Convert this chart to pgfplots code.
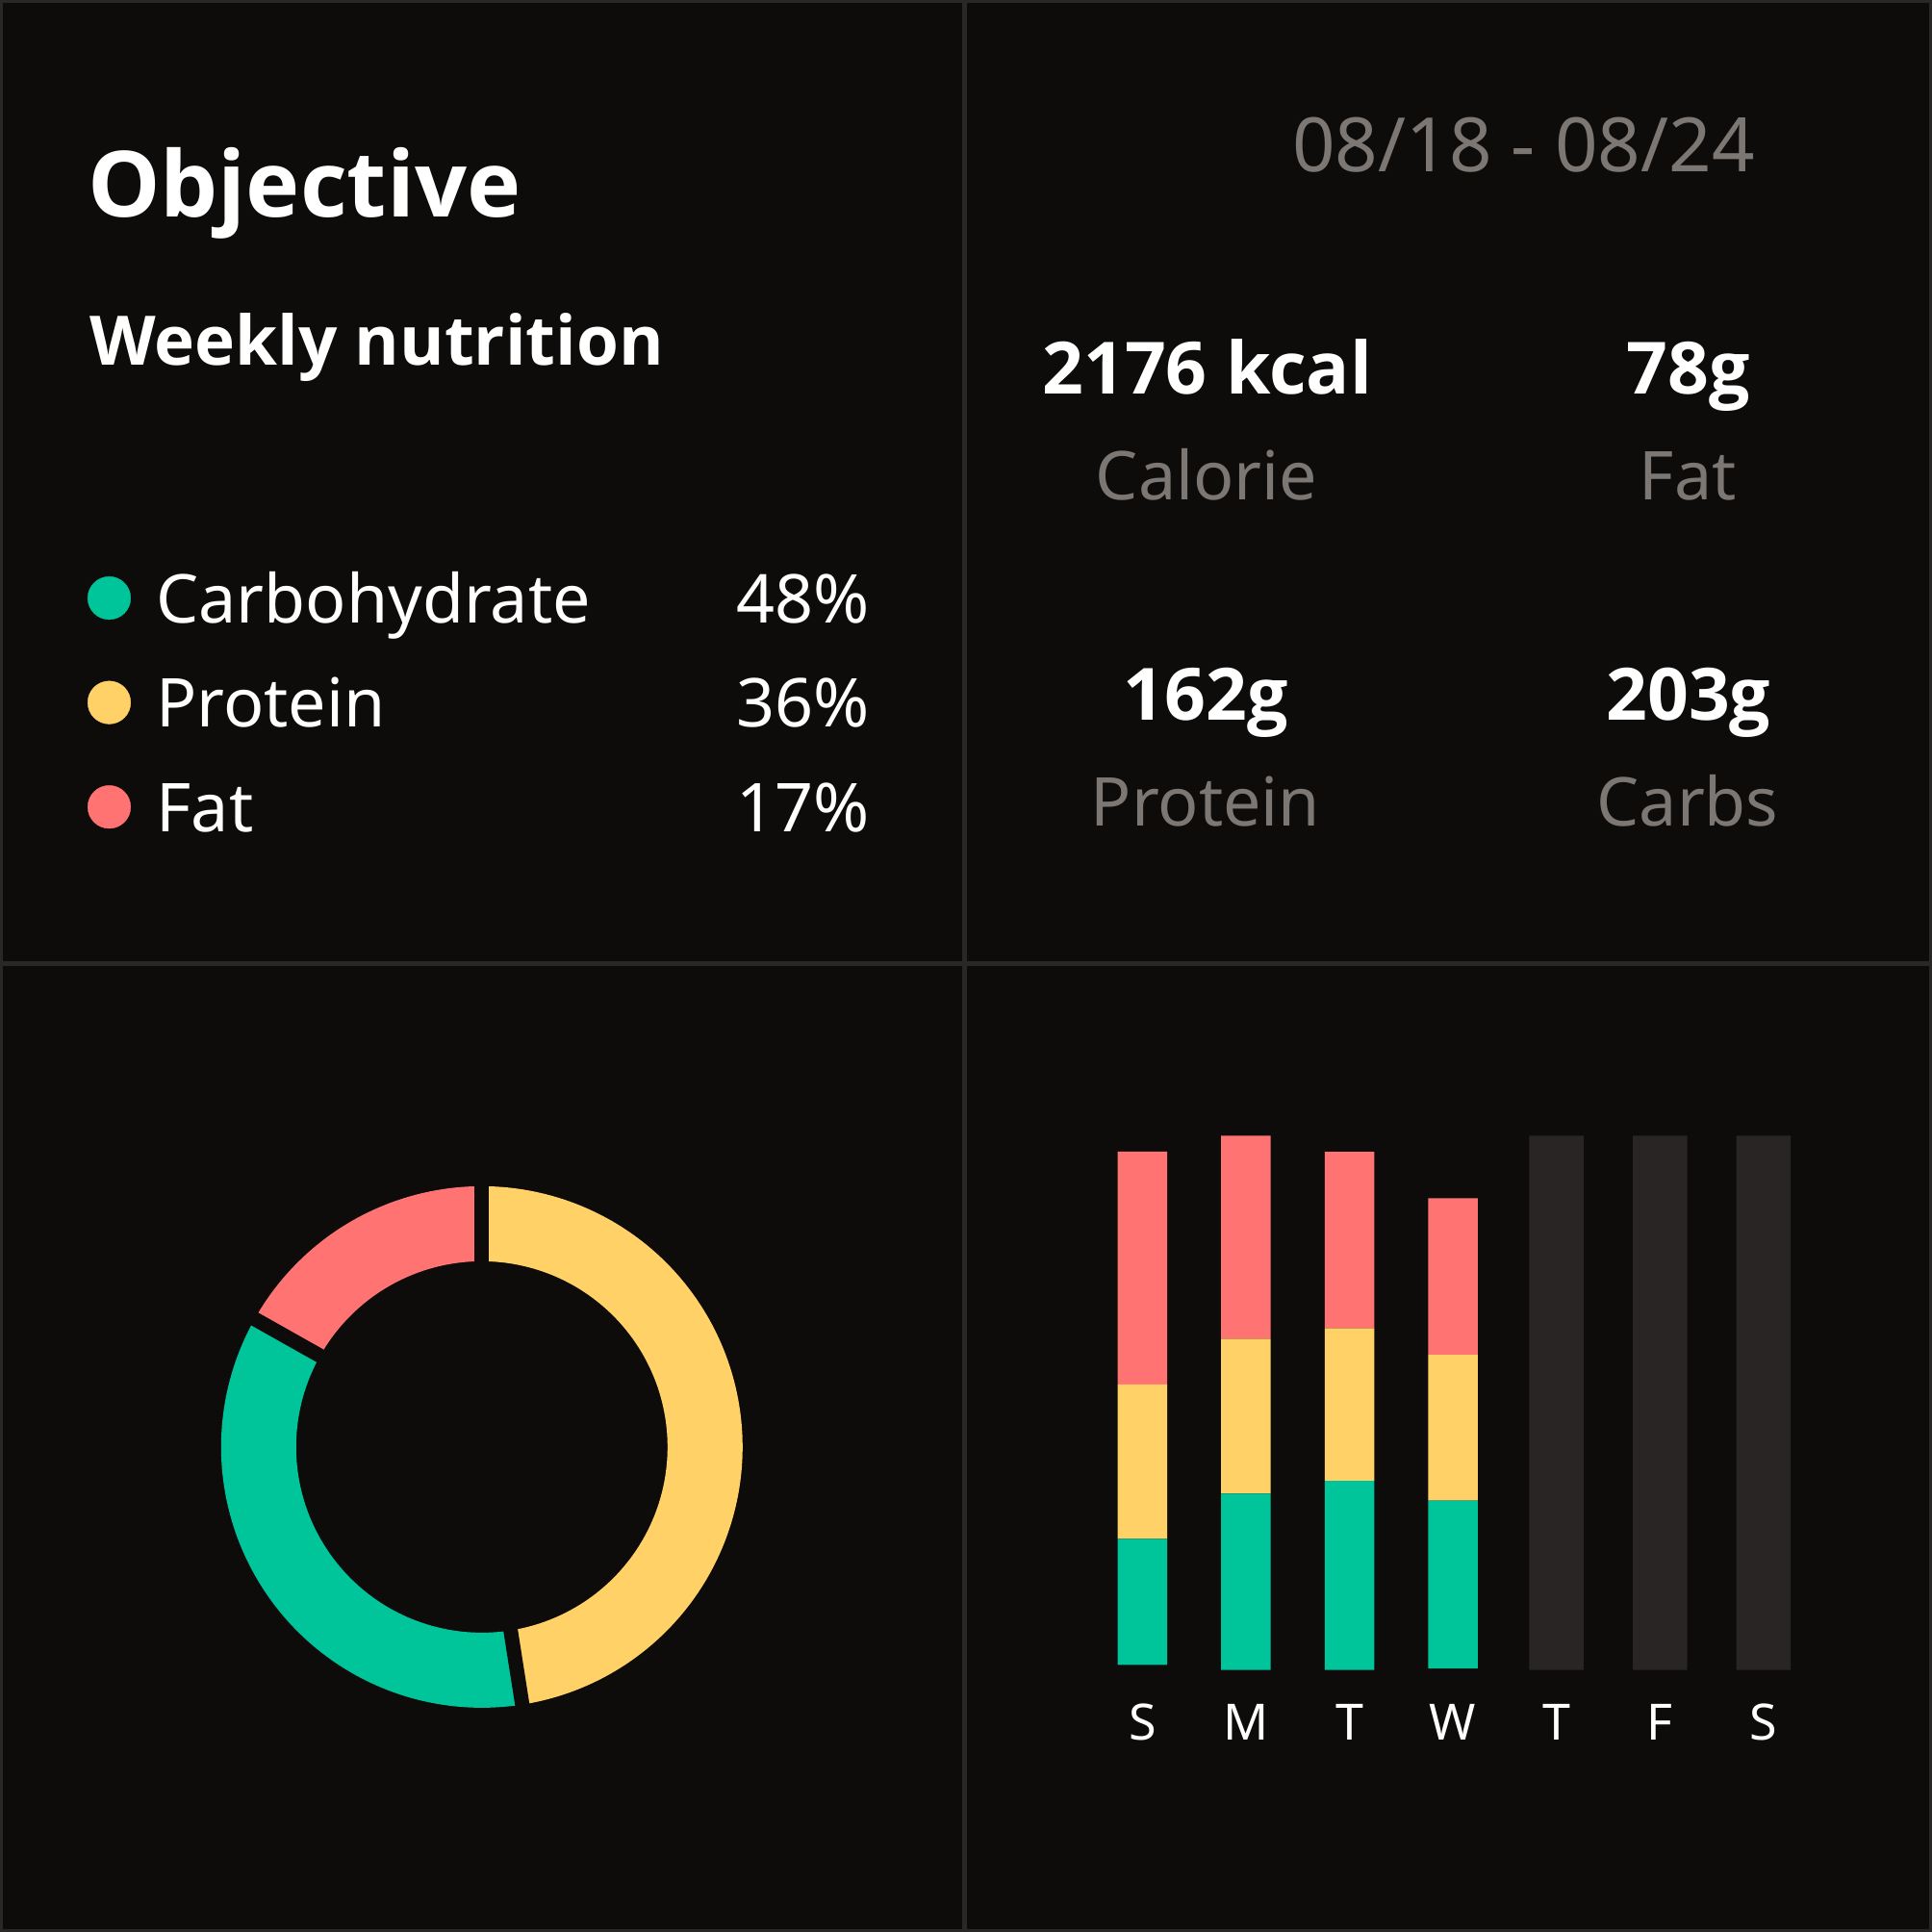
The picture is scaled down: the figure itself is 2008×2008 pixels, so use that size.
\documentclass[border=0pt]{standalone}
\usepackage{fontspec}
\setmainfont{Noto Sans}
\IfFontExistsTF{Noto Sans SemiBold}{\newfontfamily\hb{Noto Sans SemiBold}}{%
 \IfFontExistsTF{Noto Sans Bold}{\newfontfamily\hb{Noto Sans Bold}}{%
  \IfFontExistsTF{Open Sans Bold}{\newfontfamily\hb{Open Sans Bold}}{%
   \newfontfamily\hb{Noto Sans}[FakeBold=3]}}}
\usepackage{pgfplots}
\pgfplotsset{compat=1.18}
\definecolor{bg}{HTML}{0D0C0B}
\definecolor{gridc}{HTML}{2A2826}
\definecolor{emptyc}{HTML}{282524}
\definecolor{cgreen}{HTML}{00C49A}
\definecolor{cyellow}{HTML}{FFD166}
\definecolor{cred}{HTML}{FF7473}
\definecolor{gtext}{HTML}{7D7773}

% donut shares (as drawn, clockwise from top)
\def\pY{48}\def\pG{36}\def\pR{17}
\pgfmathsetmacro{\tot}{\pY+\pG+\pR}
\pgfmathsetmacro{\aA}{90}
\pgfmathsetmacro{\aB}{90-\pY/\tot*360}
\pgfmathsetmacro{\aC}{\aB-\pG/\tot*360}
\pgfmathsetmacro{\aD}{\aC-\pR/\tot*360}

\begin{document}
\begin{tikzpicture}
\path[use as bounding box] (0,0) rectangle (2008pt,2008pt);
\fill[bg] (0,0) rectangle (2008pt,2008pt);
\draw[gridc, line width=6pt] (0,0) rectangle (2008pt,2008pt);
\fill[gridc] (999.5pt,0) rectangle (1004.5pt,2008pt);
\fill[gridc] (0,1003.5pt) rectangle (2008pt,1008.5pt);

% top-left texts
\node[anchor=base west, inner sep=0, text=white, font=\hb\fontsize{95}{100}\selectfont] at (91pt,1782.6pt) {Objective};
\node[anchor=base west, inner sep=0, text=white, font=\hb\fontsize{71}{90}\selectfont] at (93pt,1628pt) {Weekly nutrition};

% top-right texts
\node[anchor=base east, inner sep=0, text=gtext, font=\fontsize{78}{90}\selectfont] at (1824pt,1829.3pt) {08/18 - 08/24};
\node[anchor=base, inner sep=0, text=white, font=\hb\fontsize{75}{90}\selectfont] at (1254.6pt,1598.5pt) {2176 kcal};
\node[anchor=base, inner sep=0, text=white, font=\hb\fontsize{75}{90}\selectfont] at (1754.8pt,1598.5pt) {78g};
\node[anchor=base, inner sep=0, text=gtext, font=\fontsize{70}{80}\selectfont] at (1254pt,1488.5pt) {Calorie};
\node[anchor=base, inner sep=0, text=gtext, font=\fontsize{70}{80}\selectfont] at (1754.4pt,1488.5pt) {Fat};
\node[anchor=base, inner sep=0, text=white, font=\hb\fontsize{75}{90}\selectfont] at (1253.3pt,1259pt) {162g};
\node[anchor=base, inner sep=0, text=white, font=\hb\fontsize{75}{90}\selectfont] at (1754.8pt,1259pt) {203g};
\node[anchor=base, inner sep=0, text=gtext, font=\fontsize{70}{80}\selectfont] at (1253pt,1149.8pt) {Protein};
\node[anchor=base, inner sep=0, text=gtext, font=\fontsize{70}{80}\selectfont] at (1754pt,1149.8pt) {Carbs};

% donut + legend
\begin{axis}[at={(200.8pt,204.1pt)}, anchor=south west, scale only axis,
  width=600pt, height=600pt, xmin=-300, xmax=300, ymin=-300, ymax=300,
  hide axis,
  legend image code/.code={\fill[#1] (22.3pt,0pt) circle (22.3pt);},
  legend cell align=left,
  legend style={at={(-0.18300,2.01333)}, anchor=north west, draw=none, fill=none,
    inner sep=0pt, outer sep=0pt, column sep=26.4pt, row sep=57.15pt,
    text=white, font=\fontsize{70}{80}\selectfont,
    nodes={inner sep=0pt, outer sep=0pt, text height=51.4pt, text depth=0pt}},
]
\addplot[forget plot, cyellow, line width=78pt, domain=\aB:\aA, samples=150, variable=\t] ({232*cos(\t)},{232*sin(\t)});
\addplot[forget plot, cgreen, line width=78pt, domain=\aC:\aB, samples=150, variable=\t] ({232*cos(\t)},{232*sin(\t)});
\addplot[forget plot, cred, line width=78pt, domain=\aD:\aC, samples=80, variable=\t] ({232*cos(\t)},{232*sin(\t)});
\addplot[forget plot, bg, line width=15pt, domain=150:320, samples=2, variable=\t] ({\t*cos(\aA)},{\t*sin(\aA)});
\addplot[forget plot, bg, line width=15pt, domain=150:320, samples=2, variable=\t] ({\t*cos(\aB)},{\t*sin(\aB)});
\addplot[forget plot, bg, line width=15pt, domain=150:320, samples=2, variable=\t] ({\t*cos(\aC)},{\t*sin(\aC)});
\addlegendimage{cgreen}
\addlegendentry{\makebox[741pt][l]{Carbohydrate\hfill 48\%}}
\addlegendimage{cyellow}
\addlegendentry{\makebox[741pt][l]{Protein\hfill 36\%}}
\addlegendimage{cred}
\addlegendentry{\makebox[741pt][l]{Fat\hfill 17\%}}
\end{axis}

% empty (future) days
\begin{axis}[at={(1133.5pt,272.3pt)}, anchor=south west, scale only axis,
  width=753.2pt, height=555.3pt, xmin=-0.5, xmax=6.5, ymin=0, ymax=100, hide axis]
\addplot[ybar, bar shift=0pt, bar width=56.5pt, fill=emptyc, draw=none] coordinates {(4,100) (5,100) (6,100)};
\end{axis}

% stacked days
\begin{axis}[at={(1133.5pt,272.3pt)}, anchor=south west, scale only axis,
  width=753.2pt, height=555.3pt, xmin=-0.5, xmax=6.5, ymin=0, ymax=100,
  ybar stacked, bar width=51.5pt,
  axis line style={draw=none}, major tick length=0pt, ytick=\empty,
  xtick={0,1,2,3,4,5,6}, xticklabels={S,M,T,W,T,F,S},
  xticklabel style={text=white, font=\fontsize{52}{60}\selectfont, anchor=base, inner sep=0pt, yshift=-72.8pt},
]
\addplot[fill=none, draw=none] coordinates {(0,0.95) (1,0) (2,0) (3,0.3)};
\addplot[fill=cgreen, draw=none] coordinates {(0,23.6) (1,33.0) (2,35.4) (3,31.4)};
\addplot[fill=cyellow, draw=none] coordinates {(0,28.9) (1,29.0) (2,28.6) (3,27.3)};
\addplot[fill=cred, draw=none] coordinates {(0,43.6) (1,38.0) (2,33.0) (3,29.3)};
\end{axis}
\end{tikzpicture}
\end{document}
